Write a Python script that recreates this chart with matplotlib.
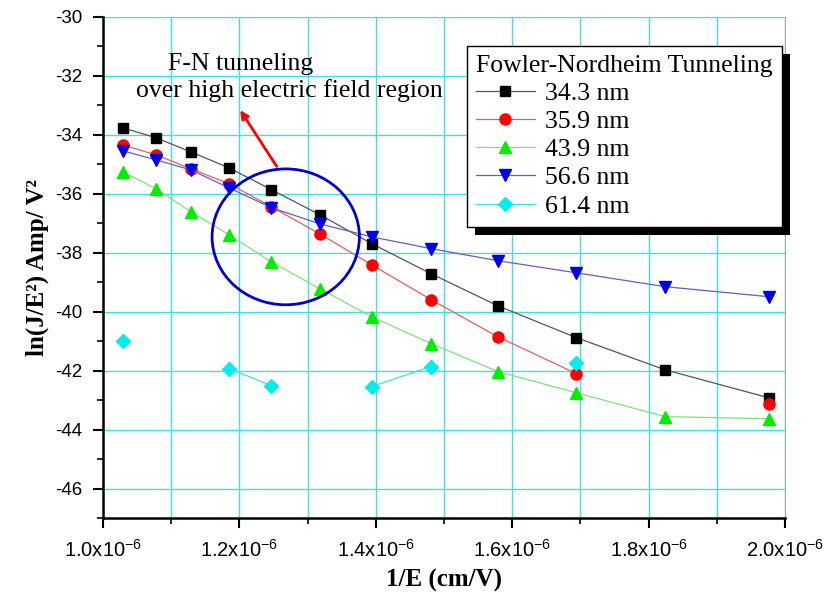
import matplotlib
matplotlib.use('Agg')
import matplotlib.pyplot as plt
import matplotlib.patheffects as pe
from matplotlib.patches import Ellipse
from matplotlib.ticker import MultipleLocator, FuncFormatter
import numpy as np

# 1/E (cm/V), common to all series
inv_e = np.array([1.029, 1.078, 1.129, 1.185, 1.247, 1.318, 1.394,
                  1.481, 1.579, 1.694, 1.824, 1.976]) * 1e-6

nan = np.nan
s_343 = [-33.76, -34.10, -34.58, -35.12, -35.86, -36.71, -37.69,
         -38.71, -39.80, -40.88, -41.97, -42.92]
s_359 = [-34.34, -34.68, -35.15, -35.66, -36.44, -37.36, -38.41,
         -39.59, -40.85, -42.10, nan, -43.12]
s_439 = [-35.25, -35.83, -36.61, -37.39, -38.31, -39.22, -40.17,
         -41.08, -42.03, -42.75, -43.56, -43.63]
s_566 = [-34.54, -34.85, -35.19, -35.80, -36.47, -37.02, -37.46,
         -37.86, -38.27, -38.68, -39.15, -39.49]
s_614 = [-40.98, nan, nan, -41.93, -42.51, nan, -42.54,
         -41.86, nan, -41.73, nan, nan]

series = [s_343, s_359, s_439, s_566, s_614]
labels = ['34.3 nm', '35.9 nm', '43.9 nm', '56.6 nm', '61.4 nm']
markers = ['s', 'o', '^', 'v', 'D']
colors = ['black', 'red', '#00ee00', '#0000ee', '#00eeee']
line_colors = ['#555555', '#e06060', '#80e080', '#6060c0', '#40e0e0']
sizes = [6.5, 8, 8.5, 8.5, 7]

plt.rcParams['mathtext.fontset'] = 'custom'
plt.rcParams['mathtext.rm'] = 'Liberation Sans'
plt.rcParams['mathtext.it'] = 'Liberation Sans:italic'
plt.rcParams['mathtext.bf'] = 'Liberation Sans:bold'

fig = plt.figure(figsize=(8.25, 6.02), dpi=100)
ax = fig.add_axes([0.1248, 0.1395, 0.8267, 0.8323])

for vals, lab, m, c, lc, ms in zip(series, labels, markers, colors, line_colors, sizes):
    ax.plot(inv_e, vals, color=lc, lw=0.9, marker=m, ms=ms,
            markerfacecolor=c, markeredgecolor=c, label=lab, zorder=3)

ax.set_xlim(1.0e-6, 2.0e-6)
ax.set_ylim(-47, -30)

ax.xaxis.set_major_locator(MultipleLocator(0.2e-6))
ax.xaxis.set_minor_locator(MultipleLocator(0.1e-6))
ax.yaxis.set_major_locator(MultipleLocator(2))
ax.yaxis.set_minor_locator(MultipleLocator(1))

def fmt_x(v, pos):
    return r'%.1fx10$^{-6}$' % (v * 1e6)

ax.xaxis.set_major_formatter(FuncFormatter(fmt_x))
ax.yaxis.set_major_formatter(FuncFormatter(lambda v, p: '%d' % v))

ax.tick_params(which='major', direction='out', length=7, width=1.5,
               labelsize=13.5, pad=8)
ax.tick_params(axis='x', which='major', labelsize=14.5)
ax.tick_params(which='minor', direction='out', length=4, width=1.2)
for lab in ax.get_xticklabels() + ax.get_yticklabels():
    lab.set_family('Liberation Sans')

ax.grid(True, which='both', axis='x', color='#40e0e0', lw=1)
ax.grid(True, which='major', axis='y', color='#40e0e0', lw=1)
ax.set_axisbelow(True)

ax.spines['top'].set_visible(False)
ax.spines['right'].set_color('#aaaaaa')
ax.spines['left'].set_linewidth(1.8)
ax.spines['bottom'].set_linewidth(1.8)

ax.set_xlabel('1/E (cm/V)', family='Liberation Serif', fontweight='bold',
              fontsize=18, labelpad=6)
ax.set_ylabel('ln(J/E²) Amp/ V²', family='Liberation Serif', fontweight='bold',
              fontsize=18, labelpad=4)

# circled region + arrow + note
ax.add_patch(Ellipse((1.268e-6, -37.46), 0.216e-6, 4.61, fill=False,
                     edgecolor='#0000cc', lw=2, zorder=4))
ax.annotate('', xy=(1.199e-6, -33.08), xytext=(1.257e-6, -35.15),
            arrowprops=dict(arrowstyle='-|>', color='red', lw=2,
                            mutation_scale=12), zorder=4)
ax.text(1.202e-6, -31.6, 'F-N tunneling', family='Liberation Serif',
        fontsize=18.5, ha='center', va='center')
ax.text(1.048e-6, -32.5, 'over high electric field region',
        family='Liberation Serif', fontsize=18.5, ha='left', va='center')

leg = ax.legend(title='Fowler-Nordheim Tunneling', loc='upper left',
                bbox_to_anchor=(0.566, 0.9236), bbox_transform=fig.transFigure,
                prop={'family': 'Liberation Serif', 'size': 18.5},
                title_fontproperties={'family': 'Liberation Serif', 'size': 18.5},
                frameon=True, fancybox=False, framealpha=1, edgecolor='black',
                handlelength=2.3, handletextpad=0.4, labelspacing=0.2,
                borderpad=0.35, borderaxespad=0)
leg._legend_box.align = 'left'
leg.get_frame().set_linewidth(1)
leg.get_frame().set_path_effects([
    pe.SimplePatchShadow(offset=(6, -6), shadow_rgbFace='black', alpha=1),
    pe.Normal()])
leg.set_zorder(5)

plt.savefig('out.png', dpi=100)
plt.close()
